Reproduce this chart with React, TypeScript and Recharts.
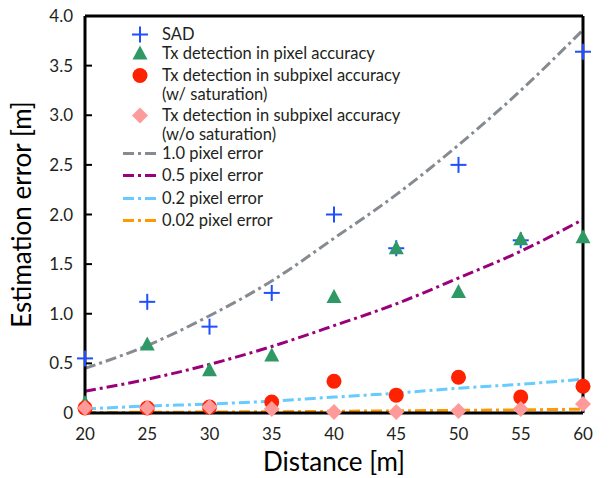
import React from 'react'
import { ComposedChart, Line, XAxis, YAxis } from 'recharts'

const distance = [20, 25, 30, 35, 40, 45, 50, 55, 60]
const sad = [0.55, 1.12, 0.87, 1.21, 2.0, 1.66, 2.5, 1.74, 3.64]
const pixelAcc = [0.1, 0.69, 0.43, 0.58, 1.17, 1.66, 1.22, 1.75, 1.77]
const subpixSat = [0.05, 0.05, 0.06, 0.11, 0.32, 0.18, 0.36, 0.16, 0.27]
const subpixNoSat = [0.05, 0.05, 0.06, 0.04, 0.01, 0.01, 0.02, 0.04, 0.09]
const err10 = [0.45, 0.68, 0.98, 1.33, 1.76, 2.2, 2.7, 3.25, 3.86]
const err05 = [0.22, 0.34, 0.49, 0.67, 0.88, 1.1, 1.36, 1.63, 1.95]
const err02 = [0.04, 0.07, 0.09, 0.12, 0.16, 0.2, 0.25, 0.29, 0.34]
const err002 = [0.005, 0.007, 0.01, 0.013, 0.017, 0.022, 0.027, 0.032, 0.038]

const xTicks = [20, 25, 30, 35, 40, 45, 50, 55, 60]
const yTicks = [0, 0.5, 1, 1.5, 2, 2.5, 3, 3.5, 4]

const data = distance.map((d, i) => ({
  d,
  sad: sad[i],
  pixel: pixelAcc[i],
  sat: subpixSat[i],
  nosat: subpixNoSat[i],
  e10: err10[i],
  e05: err05[i],
  e02: err02[i],
  e002: err002[i],
}))

const FONT = 'Lato, "Noto Sans", sans-serif'
const DASH = '11 4 3 4'

const C = {
  sad: '#1f4fff',
  pixel: '#2f9966',
  sat: '#ff2200',
  nosat: '#ff9a9a',
  e10: '#858b91',
  e05: '#99007a',
  e02: '#66ccff',
  e002: '#ff9900',
}

const Plus = (p: any) => {
  const { cx, cy } = p
  if (cx == null || cy == null) return null
  return (
    <g key={p.index}>
      <line x1={cx - 8} x2={cx + 8} y1={cy} y2={cy} stroke={C.sad} strokeWidth={2} />
      <line x1={cx} x2={cx} y1={cy - 8} y2={cy + 8} stroke={C.sad} strokeWidth={2} />
    </g>
  )
}
const Tri = (p: any) => {
  const { cx, cy } = p
  if (cx == null || cy == null) return null
  return <polygon key={p.index} points={`${cx},${cy - 8} ${cx - 7.5},${cy + 6} ${cx + 7.5},${cy + 6}`} fill={C.pixel} />
}
const Circ = (p: any) => {
  const { cx, cy } = p
  if (cx == null || cy == null) return null
  return <circle key={p.index} cx={cx} cy={cy} r={7.5} fill={C.sat} />
}
const Diam = (p: any) => {
  const { cx, cy } = p
  if (cx == null || cy == null) return null
  return <polygon key={p.index} points={`${cx},${cy - 8} ${cx + 8},${cy} ${cx},${cy + 8} ${cx - 8},${cy}`} fill={C.nosat} />
}

const legendItems = [
  { kind: 'plus', label: ['SAD'], top: 25 },
  { kind: 'tri', label: ['Tx detection in pixel accuracy'], top: 44 },
  { kind: 'circ', label: ['Tx detection in subpixel accuracy', '(w/ saturation)'], top: 66 },
  { kind: 'diam', label: ['Tx detection in subpixel accuracy', '(w/o saturation)'], top: 106 },
  { kind: 'e10', label: ['1.0 pixel error'], top: 144 },
  { kind: 'e05', label: ['0.5 pixel error'], top: 166 },
  { kind: 'e02', label: ['0.2 pixel error'], top: 189 },
  { kind: 'e002', label: ['0.02 pixel error'], top: 211 },
]

function LegendIcon({ kind }: { kind: string }) {
  const cx = 20
  const cy = 9.5
  let el: React.ReactNode = null
  if (kind === 'plus') el = <Plus cx={cx} cy={cy} />
  else if (kind === 'tri') el = <Tri cx={cx} cy={cy} />
  else if (kind === 'circ') el = <Circ cx={cx} cy={cy} />
  else if (kind === 'diam') el = <Diam cx={cx} cy={cy} />
  else el = <line x1={3} x2={37} y1={cy} y2={cy} stroke={(C as any)[kind]} strokeWidth={3} strokeDasharray={DASH} />
  return (
    <svg width={40} height={19} style={{ position: 'absolute', left: 0, top: 0 }}>
      {el}
    </svg>
  )
}

export default function App() {
  return (
    <div style={{ position: 'absolute', left: 0, top: 0, width: 613, height: 478, fontFamily: FONT, background: '#fff' }}>
      <ComposedChart width={613} height={478} data={data} margin={{ top: 15, right: 29, bottom: 0, left: 0 }}>
        <XAxis
          dataKey="d"
          type="number"
          domain={[20, 60]}
          ticks={xTicks}
          height={65}
          tickSize={-7}
          tickMargin={22}
          axisLine={{ stroke: '#000', strokeWidth: 3 }}
          tickLine={{ stroke: '#000', strokeWidth: 2 }}
          tick={{ fontSize: 17, fill: '#231f20' }}
          label={{ value: 'Distance [m]', position: 'insideBottom', offset: 7, fontSize: 26, fill: '#000' }}
        />
        <XAxis
          xAxisId="top"
          orientation="top"
          dataKey="d"
          type="number"
          domain={[20, 60]}
          ticks={xTicks}
          height={1}
          tickSize={-7}
          tick={false}
          axisLine={{ stroke: '#000', strokeWidth: 3 }}
          tickLine={{ stroke: '#000', strokeWidth: 2 }}
        />
        <YAxis
          type="number"
          domain={[0, 4]}
          ticks={yTicks}
          width={85}
          tickSize={-7}
          tickMargin={19}
          tickFormatter={(v: number) => (v === 0 ? '0' : v.toFixed(1))}
          axisLine={{ stroke: '#000', strokeWidth: 3 }}
          tickLine={{ stroke: '#000', strokeWidth: 2 }}
          tick={{ fontSize: 17, fill: '#231f20' }}
          label={{ value: 'Estimation error [m]', angle: -90, position: 'insideLeft', offset: 22, fontSize: 26, fill: '#000', style: { textAnchor: 'middle' } }}
        />
        <YAxis
          yAxisId="right"
          orientation="right"
          type="number"
          domain={[0, 4]}
          ticks={yTicks}
          width={1}
          tickSize={-7}
          tick={false}
          axisLine={{ stroke: '#000', strokeWidth: 3 }}
          tickLine={{ stroke: '#000', strokeWidth: 2 }}
        />
        <Line dataKey="e10" type="monotone" stroke={C.e10} strokeWidth={3} strokeDasharray={DASH} dot={false} activeDot={false} isAnimationActive={false} />
        <Line dataKey="e05" type="monotone" stroke={C.e05} strokeWidth={3} strokeDasharray={DASH} dot={false} activeDot={false} isAnimationActive={false} />
        <Line dataKey="e02" type="monotone" stroke={C.e02} strokeWidth={3} strokeDasharray={DASH} dot={false} activeDot={false} isAnimationActive={false} />
        <Line dataKey="e002" type="monotone" stroke={C.e002} strokeWidth={3} strokeDasharray={DASH} dot={false} activeDot={false} isAnimationActive={false} />
        <Line dataKey="sad" stroke="none" dot={Plus} activeDot={false} isAnimationActive={false} />
        <Line dataKey="pixel" stroke="none" dot={Tri} activeDot={false} isAnimationActive={false} />
        <Line dataKey="sat" stroke="none" dot={Circ} activeDot={false} isAnimationActive={false} />
        <Line dataKey="nosat" stroke="none" dot={Diam} activeDot={false} isAnimationActive={false} />
      </ComposedChart>
      {legendItems.map((it) => (
        <div key={it.kind} style={{ position: 'absolute', left: 120, top: it.top, width: 340 }}>
          <LegendIcon kind={it.kind} />
          <div style={{ marginLeft: 42, fontSize: 16.5, lineHeight: '19px', color: '#231f20' }}>
            {it.label.map((l, i) => (
              <div key={i}>{l}</div>
            ))}
          </div>
        </div>
      ))}
    </div>
  )
}
